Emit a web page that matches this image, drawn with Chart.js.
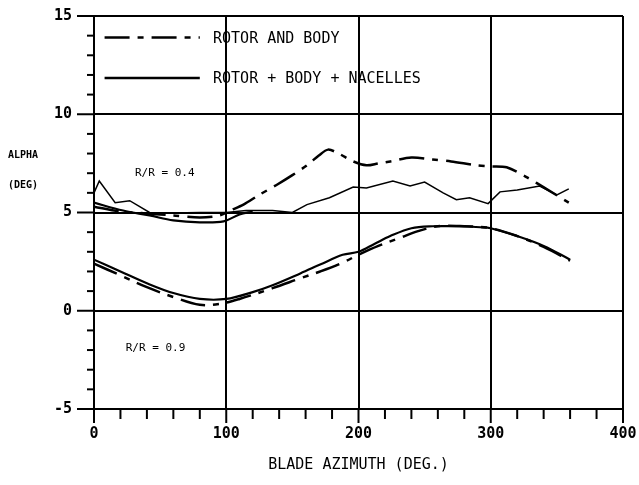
<!DOCTYPE html>
<html lang="en">
<head>
<meta charset="UTF-8">
<title>Alpha vs blade azimuth</title>
<script src="https://cdn.jsdelivr.net/npm/chart.js"></script>
<style>
  body { margin: 0; background: #fff; }
  canvas { display: block; }
</style>
</head>
<body>
<canvas id="alphaChart" width="639" height="485"></canvas>
<script>
// r/R = 0.4, rotor and body (dash-dot)
const dashAz04 = [0, 20, 40, 60, 80, 95, 103, 113, 125, 138, 150, 161, 170, 177, 185, 196, 206, 215, 224, 240, 256, 270, 290, 300, 312, 327, 342, 359];
const dashAlpha04 = [5.3, 5.05, 4.95, 4.85, 4.75, 4.85, 5.1, 5.4, 5.9, 6.4, 6.9, 7.4, 7.9, 8.2, 8.0, 7.6, 7.4, 7.5, 7.6, 7.8, 7.7, 7.6, 7.4, 7.35, 7.3, 6.8, 6.2, 5.5];

// r/R = 0.4, rotor + body + nacelles (solid, jagged)
const solidAz04 = [0, 4, 16, 27, 42, 60, 80, 100, 115, 135, 150, 161, 178, 196, 206, 226, 239, 250, 264, 274, 284, 298, 307, 320, 337, 350, 359];
const solidAlpha04 = [6.0, 6.6, 5.5, 5.6, 5.0, 4.98, 5.0, 5.0, 5.1, 5.1, 5.0, 5.4, 5.75, 6.3, 6.25, 6.6, 6.35, 6.55, 6.0, 5.65, 5.75, 5.45, 6.05, 6.15, 6.35, 5.9, 6.2];

// r/R = 0.4, lower solid trace
const lowAz04 = [0, 22, 42, 60, 80, 98, 110, 120];
const lowAlpha04 = [5.5, 5.1, 4.85, 4.6, 4.5, 4.55, 4.9, 5.05];

// r/R = 0.9, rotor and body (dash-dot)
const dashAz09 = [0, 20, 40, 60, 80, 95, 110, 135, 156, 171, 188, 200, 215, 231, 245, 260, 280, 300, 320, 340, 360];
const dashAlpha09 = [2.4, 1.8, 1.2, 0.7, 0.3, 0.35, 0.6, 1.15, 1.65, 2.0, 2.45, 2.85, 3.3, 3.7, 4.05, 4.3, 4.3, 4.2, 3.8, 3.25, 2.55];

// r/R = 0.9, rotor + body + nacelles (solid)
const solidAz09 = [0, 20, 40, 60, 80, 100, 120, 135, 156, 171, 188, 200, 212, 224, 240, 256, 274, 292, 300, 320, 340, 360];
const solidAlpha09 = [2.6, 2.0, 1.4, 0.9, 0.6, 0.6, 0.95, 1.3, 1.9, 2.35, 2.85, 3.0, 3.4, 3.8, 4.2, 4.3, 4.3, 4.25, 4.2, 3.8, 3.3, 2.6];

const legendLabels = ['ROTOR AND BODY', 'ROTOR + BODY + NACELLES'];
const xTitle = 'BLADE AZIMUTH (DEG.)';

const MONO = '"DejaVu Sans Mono", "Liberation Mono", monospace';
const DASH = [25, 8, 6, 8];

function pts(xs, ys) {
    return xs.map((x, i) => ({ x: x, y: ys[i] }));
}

const datasets = [
    { label: legendLabels[0], data: pts(dashAz04, dashAlpha04), borderColor: '#000', borderWidth: 2.5, borderDash: DASH, tension: 0.3, pointRadius: 0 },
    { label: legendLabels[1], data: pts(solidAz04, solidAlpha04), borderColor: '#000', borderWidth: 1.5, tension: 0, pointRadius: 0 },
    { label: '', data: pts(lowAz04, lowAlpha04), borderColor: '#000', borderWidth: 2.2, tension: 0.35, pointRadius: 0 },
    { label: '', data: pts(dashAz09, dashAlpha09), borderColor: '#000', borderWidth: 2.5, borderDash: DASH, tension: 0.35, pointRadius: 0 },
    { label: '', data: pts(solidAz09, solidAlpha09), borderColor: '#000', borderWidth: 2.2, tension: 0.35, pointRadius: 0 }
];

// tick marks, labels and the legend drawn on top of the plot
const decorations = {
    id: 'decorations',
    afterDraw(chart) {
        const ctx = chart.ctx;
        const xs = chart.scales.x;
        const ys = chart.scales.y;
        const area = chart.chartArea;
        ctx.save();
        ctx.strokeStyle = '#000';
        ctx.fillStyle = '#000';
        ctx.lineWidth = 2;
        ctx.setLineDash([]);
        for (let v = 0; v <= 400; v += 20) {
            const px = xs.getPixelForValue(v);
            ctx.beginPath();
            ctx.moveTo(px, area.bottom);
            ctx.lineTo(px, area.bottom + (v % 100 === 0 ? 14 : 10));
            ctx.stroke();
        }
        for (let v = -5; v <= 15; v += 1) {
            const py = ys.getPixelForValue(v);
            ctx.beginPath();
            ctx.moveTo(area.left - (v % 5 === 0 ? 17 : 7), py);
            ctx.lineTo(area.left, py);
            ctx.stroke();
        }

        ctx.textBaseline = 'middle';
        ctx.textAlign = 'left';
        ctx.font = 'bold 10px ' + MONO;
        ctx.fillText('ALPHA', 8, 155);
        ctx.fillText('(DEG)', 8, 185);

        ctx.font = '11px ' + MONO;
        ctx.fillText('R/R = 0.4', xs.getPixelForValue(31), ys.getPixelForValue(7.0));
        ctx.fillText('R/R = 0.9', xs.getPixelForValue(24), ys.getPixelForValue(-1.9));

        // legend
        const rows = [13.9, 11.85];
        ctx.font = '15px ' + MONO;
        for (let i = 0; i < 2; i++) {
            const ds = chart.data.datasets[i];
            const py = ys.getPixelForValue(rows[i]);
            ctx.lineWidth = 2.5;
            ctx.setLineDash(ds.borderDash || []);
            ctx.beginPath();
            ctx.moveTo(xs.getPixelForValue(8), py);
            ctx.lineTo(xs.getPixelForValue(80), py);
            ctx.stroke();
            ctx.setLineDash([]);
            ctx.fillText(legendLabels[i], xs.getPixelForValue(90), py + 1);
        }
        ctx.restore();
    }
};

const ctx = document.getElementById('alphaChart').getContext('2d');
const alphaChart = new Chart(ctx, {
    type: 'line',
    data: { datasets: datasets },
    options: {
        responsive: false,
        animation: false,
        layout: { padding: { top: 16, right: 16, left: 0, bottom: 0 } },
        plugins: {
            legend: { display: false },
            tooltip: { enabled: false }
        },
        scales: {
            x: {
                type: 'linear',
                min: 0,
                max: 400,
                border: { display: false },
                grid: {
                    drawTicks: false,
                    lineWidth: 2,
                    color: c => (c.tick && c.tick.value % 100 === 0) ? '#000' : 'rgba(0,0,0,0)'
                },
                ticks: {
                    stepSize: 20,
                    autoSkip: false,
                    maxRotation: 0,
                    padding: 16,
                    color: '#000',
                    font: { family: MONO, size: 15, weight: 'bold' },
                    callback: v => v % 100 === 0 ? String(v) : ''
                },
                title: {
                    display: true,
                    text: xTitle,
                    color: '#000',
                    font: { family: MONO, size: 15 },
                    padding: { top: 0, bottom: 11 }
                },
                afterFit: s => { s.height = 76; s.paddingLeft = 0; s.paddingRight = 0; }
            },
            y: {
                min: -5,
                max: 15,
                border: { display: false },
                grid: {
                    drawTicks: false,
                    lineWidth: 2,
                    color: c => (c.tick && c.tick.value % 5 === 0) ? '#000' : 'rgba(0,0,0,0)'
                },
                ticks: {
                    stepSize: 1,
                    autoSkip: false,
                    padding: 22,
                    color: '#000',
                    font: { family: MONO, size: 15, weight: 'bold' },
                    callback: v => v % 5 === 0 ? String(v) : ''
                },
                afterFit: s => { s.width = 94; s.paddingTop = 0; s.paddingBottom = 0; }
            }
        }
    },
    plugins: [decorations]
});
</script>
</body>
</html>
